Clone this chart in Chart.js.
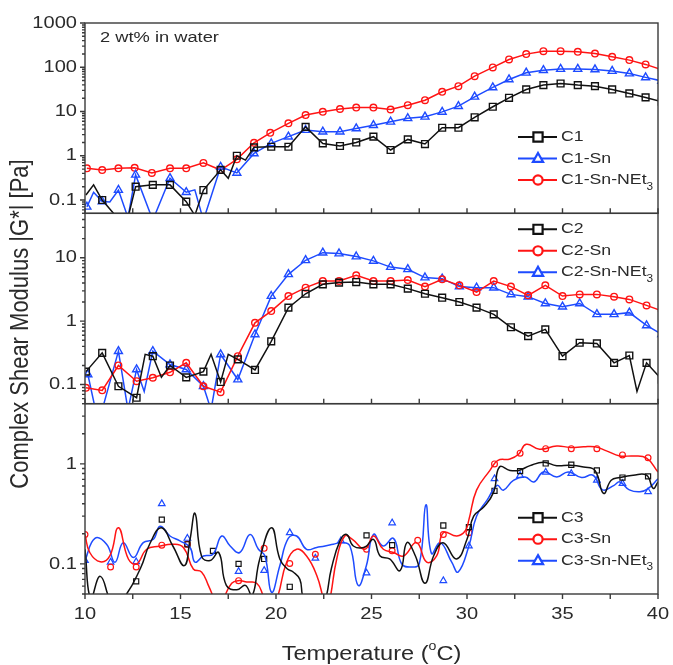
<!DOCTYPE html>
<html>
<head>
<meta charset="utf-8">
<script src="https://cdn.jsdelivr.net/npm/chart.js@4/dist/chart.umd.min.js"></script>
<style>
  html, body { margin: 0; padding: 0; background: #fff; }
  #wrap { width: 673px; height: 665px; }
</style>
</head>
<body>
<div id="wrap"><canvas id="c" width="673" height="665"></canvas></div>
<script>
// Temperature sweep of |G*| for three polymer families, 2 wt% in water.
// Each point: [temperature °C, |G*| Pa, marker? (0 = line vertex only)]

// ---- Panel 1 ----
const C1 = [[10.05,0.13,0],[10.45,0.22,0],[10.9,0.1],[11.8,0.035],[12.25,0.04,0],[12.65,0.2],[13.55,0.22],[14.45,0.22],[15.3,0.092],[15.75,0.045,0],[16.2,0.168],[17.1,0.48],[17.5,0.31,0],[17.95,1.0],[18.4,0.8,0],[18.85,1.55],[19.75,1.6],[20.65,1.6],[21.55,4.5],[22.45,1.9],[23.35,1.66],[24.2,2.0],[25.1,2.7],[26.0,1.35],[26.9,2.34],[27.8,1.84],[28.7,4.3],[29.55,4.3],[30.4,7.4],[31.35,12.8],[32.2,20.4],[33.1,31.5],[34.0,39.5],[34.9,43],[35.8,39.5],[36.7,37.4],[37.6,31.5],[38.5,25.6],[39.35,20.8],[40.2,16.6]];
const C1_Sn = [[10.1,0.07],[10.45,0.15,0],[10.9,0.092],[11.3,0.09,0],[11.75,0.168],[12.25,0.04,0],[12.65,0.37],[13.55,0.035],[14.45,0.31],[15.3,0.15],[15.75,0.17,0],[16.2,0.035],[17.1,0.56],[17.95,0.41],[18.85,1.13],[19.75,1.9],[20.65,2.7],[21.55,3.8],[22.45,3.5],[23.35,3.5],[24.2,4.15],[25.1,4.9],[26.0,5.85],[26.9,7.0],[27.8,7.6],[28.7,9.8],[29.55,13.2],[30.4,21.5],[31.35,35],[32.2,53],[33.1,75],[34.0,86],[34.9,91],[35.8,91],[36.7,89],[37.6,82],[38.5,72],[39.35,59],[40.2,49]];
const C1_SnNEt3 = [[10.1,0.52],[10.9,0.475],[11.75,0.52],[12.6,0.535],[13.5,0.41],[14.45,0.52],[15.3,0.52],[16.2,0.69],[17.1,0.475],[17.95,0.83],[18.85,1.96],[19.7,3.3],[20.65,5.4],[21.55,8.3],[22.45,9.85],[23.35,11.4],[24.2,12.3],[25.1,12.3],[26.0,11.1],[26.9,13.9],[27.8,18],[28.7,27.9],[29.55,37.4],[30.4,63],[31.35,99],[32.2,150],[33.1,198],[34.0,231],[34.9,231],[35.8,223],[36.7,204],[37.6,172],[38.5,145],[39.35,116],[40.2,88]];

// ---- Panel 2 ----
const C2 = [[10.05,0.16],[10.9,0.316],[11.75,0.094],[12.7,0.062],[13.15,0.3,0],[13.55,0.28],[14.0,0.13,0],[14.45,0.2],[15.3,0.13],[16.2,0.16],[16.6,0.3,0],[17.1,0.11],[17.5,0.3,0],[18.0,0.25],[18.9,0.17],[19.75,0.48],[20.65,1.63],[21.55,2.7],[22.45,3.8],[23.3,4.05],[24.2,4.13],[25.1,3.8],[26.0,3.8],[26.9,3.25],[27.8,2.7],[28.7,2.34],[29.6,2.0],[30.5,1.63],[31.4,1.28],[32.3,0.8],[33.2,0.58],[34.1,0.74],[35.0,0.28],[35.9,0.456],[36.8,0.445],[37.7,0.22],[38.5,0.287],[38.9,0.078,0],[39.4,0.22],[40.2,0.12]];
const C2_Sn = [[10.05,0.089],[10.9,0.081],[11.75,0.2],[12.7,0.113],[13.55,0.128],[14.45,0.156],[15.3,0.22],[16.2,0.094],[17.1,0.076],[18.0,0.28],[18.9,0.94],[19.75,1.44],[20.65,2.48],[21.55,3.37],[22.45,4.28],[23.3,4.28],[24.2,5.27],[25.1,4.28],[26.0,4.28],[26.9,4.44],[27.8,3.5],[28.7,4.56],[29.6,3.66],[30.5,2.87],[31.4,4.28],[32.3,3.5],[33.2,2.55],[34.1,3.66],[35.0,2.48],[35.9,2.64],[36.8,2.64],[37.7,2.43],[38.5,2.2],[39.4,1.77],[40.2,1.45]];
const C2_SnNEt3 = [[10.15,0.144],[10.55,0.04,0],[10.9,0.04],[11.75,0.336],[12.25,0.04,0],[12.7,0.173],[13.1,0.078,0],[13.55,0.336],[14.45,0.207],[15.3,0.173],[16.2,0.094],[16.6,0.04,0],[17.1,0.298],[18.0,0.12],[18.9,0.617],[19.75,2.48],[20.65,5.47],[21.55,9.1],[22.45,12.0],[23.3,11.6],[24.2,10.4],[25.1,8.9],[26.0,7.1],[26.9,6.56],[27.8,4.85],[28.7,4.67],[29.6,3.5],[30.5,3.37],[31.4,3.37],[32.3,2.64],[33.2,2.43],[34.1,1.9],[35.0,1.69],[35.9,1.9],[36.8,1.28],[37.7,1.28],[38.5,1.36],[39.4,0.855],[40.2,0.62]];

// ---- Panel 3: smoothed traces and sampled markers ----
const C3_curve = [[10.0,0.14],[10.3,0.045],[10.8,0.075],[11.45,0.04],[12.0,0.045],[12.9,0.09],[13.4,0.16],[14.0,0.23],[14.6,0.151],[15.2,0.096],[15.5,0.176],[15.76,0.32],[16.1,0.12],[16.55,0.108],[17.0,0.13],[17.4,0.061],[17.95,0.055],[18.4,0.061],[18.75,0.048],[19.15,0.112],[19.77,0.23],[20.2,0.112],[20.6,0.089],[20.9,0.083],[21.25,0.07],[21.45,0.045],[22.0,0.035],[22.5,0.04],[22.9,0.09],[23.35,0.17],[23.7,0.197],[24.05,0.151],[24.65,0.147],[25.1,0.176],[25.45,0.12],[25.95,0.112],[26.5,0.086],[26.85,0.163],[27.3,0.12],[27.8,0.064],[28.25,0.12],[28.75,0.163],[29.45,0.112],[30.0,0.176],[30.35,0.3],[30.9,0.374],[31.4,0.525],[31.7,0.93],[32.25,0.86],[32.7,0.86],[33.3,0.96],[34.0,1.04],[34.7,0.96],[35.4,0.97],[36.1,0.93],[36.7,0.86],[37.15,0.507],[37.55,0.685],[38.0,0.73],[38.7,0.77],[39.4,0.77],[39.75,0.57],[40.0,0.66]];
const C3_Sn_curve = [[10.0,0.197],[10.25,0.13],[10.8,0.105],[11.3,0.12],[11.75,0.23],[12.27,0.112],[12.7,0.1],[13.23,0.14],[13.9,0.15],[14.6,0.157],[15.15,0.146],[15.67,0.089],[16.1,0.083],[16.46,0.061],[16.75,0.045],[16.95,0.036],[17.25,0.045],[17.68,0.064],[18.03,0.068],[18.47,0.066],[18.99,0.064],[19.33,0.048],[19.7,0.032],[20.1,0.048],[20.56,0.104],[21.08,0.14],[21.6,0.12],[22.13,0.077],[22.48,0.045],[22.65,0.035],[22.83,0.045],[23.18,0.112],[23.6,0.19],[24.0,0.176],[24.66,0.14],[25.1,0.19],[25.62,0.14],[26.15,0.13],[26.67,0.12],[27.36,0.163],[27.89,0.104],[28.41,0.12],[28.76,0.205],[29.47,0.19],[29.9,0.213],[30.1,0.277],[30.5,0.546],[31.2,0.86],[31.6,1.08],[32.25,1.12],[32.7,1.25],[33.1,1.57],[33.8,1.4],[34.7,1.51],[35.4,1.46],[36.1,1.48],[36.7,1.48],[37.3,1.35],[38.0,1.2],[38.7,1.2],[39.4,1.14],[40.0,0.83]];
const C3_SnNEt3_curve = [[10.0,0.108],[10.52,0.18],[11.13,0.157],[11.57,0.104],[12.0,0.163],[12.53,0.116],[13.05,0.163],[13.58,0.176],[13.93,0.238],[14.45,0.19],[14.97,0.17],[15.5,0.146],[15.76,0.104],[16.2,0.12],[16.7,0.125],[17.16,0.19],[17.6,0.151],[18.1,0.13],[18.64,0.197],[19.08,0.14],[19.42,0.12],[19.77,0.052],[20.2,0.096],[20.64,0.18],[21.08,0.19],[21.6,0.14],[22.13,0.146],[22.57,0.151],[23.0,0.157],[23.44,0.163],[23.87,0.151],[24.3,0.061],[24.73,0.096],[25.1,0.197],[25.6,0.151],[26.15,0.18],[26.58,0.1],[27.05,0.093],[27.5,0.1],[27.85,0.39],[28.14,0.127],[28.6,0.163],[29.2,0.104],[29.54,0.083],[30.1,0.151],[30.5,0.3],[31.06,0.436],[31.58,0.61],[31.9,0.546],[32.43,0.685],[33.04,0.74],[33.5,0.66],[34.0,0.83],[34.7,0.74],[35.3,0.83],[36.0,0.73],[36.6,0.77],[37.1,0.55],[37.7,0.61],[38.0,0.66],[38.5,0.55],[39.06,0.526],[39.5,0.57],[40.0,0.71]];
const C3_marks = [[12.68,0.067],[14.02,0.277],[15.36,0.157],[16.7,0.135],[18.04,0.1],[19.38,0.112],[20.72,0.059],[24.74,0.193],[26.08,0.154],[28.76,0.242],[30.1,0.233],[31.44,0.538],[32.78,0.846],[34.12,1.01],[35.46,0.98],[36.8,0.86],[38.14,0.73],[39.48,0.75]];
const C3_Sn_marks = [[10.0,0.197],[11.34,0.093],[12.68,0.093],[14.02,0.154],[15.36,0.157],[18.04,0.068],[19.38,0.143],[20.72,0.101],[22.06,0.125],[24.74,0.14],[26.08,0.135],[27.42,0.172],[28.76,0.197],[30.1,0.205],[31.44,1.0],[32.78,1.28],[34.12,1.42],[35.46,1.42],[36.8,1.42],[38.14,1.23],[39.48,1.15]];
const C3_SnNEt3_marks = [[10.0,0.108],[11.34,0.104],[12.68,0.105],[14.02,0.4],[15.36,0.18],[18.04,0.084],[19.38,0.086],[20.72,0.205],[22.06,0.114],[23.4,0.17],[24.74,0.081],[26.08,0.257],[28.76,0.068],[30.1,0.151],[31.44,0.712],[32.78,0.767],[34.12,0.827],[35.46,0.8],[36.8,0.685],[38.14,0.636],[39.48,0.526]];

// ---- Axes ----
const X_TICKS = [10, 15, 20, 25, 30, 35, 40];
const X_MINOR = [12.5, 17.5, 22.5, 27.5, 32.5, 37.5];
const Y1_TICKS = [0.1, 1, 10, 100, 1000];
const Y2_TICKS = [0.1, 1, 10];
const Y3_TICKS = [0.1, 1];
const Y_RANGES = { y1: [0.05, 1000], y2: [0.05, 50], y3: [0.05, 4] };

const BLACK = '#111111', RED = '#ff1414', BLUE = '#1e4bff';
const FONT = '"Liberation Sans", Arial, Helvetica, sans-serif';
const TEXT = '#2a2a2a', FRAME = '#3a3a3a';
const SX = 1.18;               // horizontal text widening
const rawFill = CanvasRenderingContext2D.prototype.fillText;

const toPts = arr => arr.map(p => ({ x: p[0], y: p[1], m: p[2] !== 0 }));

function line(label, arr, color, shape, axis, r) {
  return {
    label, data: toPts(arr), yAxisID: axis, borderColor: color, borderWidth: 1.5,
    backgroundColor: '#fff', pointStyle: shape, pointBorderColor: color,
    pointBackgroundColor: 'rgba(255,255,255,0)', pointBorderWidth: 1.4,
    pointRadius: c => (c.raw && c.raw.m ? r : 0), tension: 0, fill: false
  };
}
function curve(label, arr, color, axis) {
  return {
    label, data: toPts(arr), yAxisID: axis, borderColor: color, borderWidth: 1.5,
    pointRadius: 0, tension: 0.45, fill: false
  };
}
function marks(label, arr, color, shape, axis, r) {
  return {
    label, data: toPts(arr), yAxisID: axis, showLine: false, pointStyle: shape,
    pointBorderColor: color, pointBackgroundColor: 'rgba(255,255,255,0)',
    pointBorderWidth: 1.2, pointRadius: r
  };
}

const datasets = [
  line('C1', C1, BLACK, 'rect', 'y1', 4.8),
  line('C1-Sn', C1_Sn, BLUE, 'triangle', 'y1', 4.6),
  line('C1-Sn-NEt3', C1_SnNEt3, RED, 'circle', 'y1', 3.3),
  line('C2', C2, BLACK, 'rect', 'y2', 4.8),
  line('C2-Sn', C2_Sn, RED, 'circle', 'y2', 3.3),
  line('C2-Sn-NEt3', C2_SnNEt3, BLUE, 'triangle', 'y2', 4.6),
  curve('C3', C3_curve, BLACK, 'y3'),
  curve('C3-Sn', C3_Sn_curve, RED, 'y3'),
  curve('C3-Sn-NEt3', C3_SnNEt3_curve, BLUE, 'y3'),
  marks('C3', C3_marks, BLACK, 'rect', 'y3', 3.6),
  marks('C3-Sn', C3_Sn_marks, RED, 'circle', 'y3', 2.9),
  marks('C3-Sn-NEt3', C3_SnNEt3_marks, BLUE, 'triangle', 'y3', 3.8)
];

function yScale(id, ticks) {
  return {
    type: 'logarithmic', position: 'left', stack: 'panels', stackWeight: 1,
    min: Y_RANGES[id][0], max: Y_RANGES[id][1],
    grid: { display: false, drawTicks: true, tickLength: 5 },
    border: { display: false },
    ticks: { font: { family: FONT, size: 17 }, color: TEXT, padding: 3, autoSkip: false,
             callback: v => String(v) },
    afterBuildTicks: s => { s.ticks = ticks.map(v => ({ value: v })); },
    afterFit: s => { s.width = 85; }
  };
}

// legend rows per panel
const LEGENDS = {
  y1: [['C1', BLACK, 'rect'], ['C1-Sn', BLUE, 'triangle'], ['C1-Sn-NEt', RED, 'circle', '3']],
  y2: [['C2', BLACK, 'rect'], ['C2-Sn', RED, 'circle'], ['C2-Sn-NEt', BLUE, 'triangle', '3']],
  y3: [['C3', BLACK, 'rect'], ['C3-Sn', RED, 'circle'], ['C3-Sn-NEt', BLUE, 'triangle', '3']]
};
const LEGEND_TOP = { y1: 114, y2: 16, y3: 114 };

function drawMarker(ctx, shape, x, y, color, s) {
  ctx.save();
  ctx.strokeStyle = color; ctx.lineWidth = 2.2; ctx.fillStyle = '#fff';
  ctx.beginPath();
  if (shape === 'rect') ctx.rect(x - s, y - s, 2 * s, 2 * s);
  else if (shape === 'circle') ctx.arc(x, y, s, 0, Math.PI * 2);
  else { ctx.moveTo(x, y - s * 1.2); ctx.lineTo(x + s * 1.1, y + s * 0.75); ctx.lineTo(x - s * 1.1, y + s * 0.75); ctx.closePath(); }
  ctx.fill(); ctx.stroke();
  ctx.restore();
}

function stretched(ctx, text, x, y) {
  ctx.save(); ctx.translate(x, y); ctx.scale(SX, 1); rawFill.call(ctx, text, 0, 0); ctx.restore();
}

const panelPlugin = {
  id: 'panels',
  beforeInit(chart) {
    const ctx = chart.ctx;
    ctx.fillText = function (t, x, y) { stretched(this, t, x, y); };
  },
  beforeDatasetDraw(chart, args) {
    const ds = chart.data.datasets[args.index];
    const s = chart.scales[ds.yAxisID];
    const a = chart.chartArea;
    chart.ctx.save();
    chart.ctx.beginPath();
    chart.ctx.rect(a.left, s.top, a.right - a.left, s.bottom - s.top);
    chart.ctx.clip();
  },
  afterDatasetDraw(chart) { chart.ctx.restore(); },
  afterDraw(chart) {
    const ctx = chart.ctx, a = chart.chartArea, xs = chart.scales.x;
    ctx.save();
    ctx.strokeStyle = FRAME; ctx.lineWidth = 1.4;
    ['y1', 'y2', 'y3'].forEach((id, k) => {
      const s = chart.scales[id];
      ctx.strokeRect(a.left, s.top, a.right - a.left, s.bottom - s.top);
      // log ticks on the left edge, major and minor
      const [lo, hi] = Y_RANGES[id];
      ctx.beginPath();
      for (let e = Math.floor(Math.log10(lo)); e <= Math.ceil(Math.log10(hi)); e++) {
        for (let m = 1; m <= 9; m++) {
          const v = m * Math.pow(10, e);
          if (v < lo * 0.999 || v > hi * 1.001) continue;
          const py = s.getPixelForValue(v);
          const len = m === 1 ? 5 : 3;
          ctx.moveTo(a.left - len, py); ctx.lineTo(a.left, py);
        }
      }
      // temperature ticks along the lower edge
      const out = k === 2 ? 1 : -1;
      X_TICKS.concat(X_MINOR).forEach(v => {
        const px = xs.getPixelForValue(v);
        ctx.moveTo(px, s.bottom); ctx.lineTo(px, s.bottom + out * 5);
      });
      ctx.stroke();

      // legend block
      const ly = s.top + LEGEND_TOP[id];
      LEGENDS[id].forEach(([txt, col, shape, sub], i) => {
        const y = ly + i * 21.5;
        ctx.save();
        ctx.strokeStyle = col; ctx.lineWidth = 2;
        ctx.beginPath(); ctx.moveTo(518, y); ctx.lineTo(557, y); ctx.stroke();
        ctx.restore();
        drawMarker(ctx, shape, 538, y, col, 4.6);
        ctx.fillStyle = TEXT; ctx.textBaseline = 'middle'; ctx.textAlign = 'left';
        ctx.font = '15px ' + FONT;
        stretched(ctx, txt, 561, y);
        if (sub) {
          const w = ctx.measureText(txt).width * SX;
          ctx.font = '10px ' + FONT;
          stretched(ctx, sub, 561 + w, y + 7);
        }
      });
    });

    // annotation
    ctx.fillStyle = TEXT; ctx.font = '15.5px ' + FONT;
    ctx.textAlign = 'left'; ctx.textBaseline = 'middle';
    stretched(ctx, '2 wt% in water', 100, 38);

    // x title with superscript degree
    ctx.font = '20px ' + FONT;
    const p1 = 'Temperature (', p3 = 'C)';
    const w1 = ctx.measureText(p1).width * SX, w3 = ctx.measureText(p3).width * SX;
    ctx.font = '12px ' + FONT;
    const w2 = ctx.measureText('o').width * SX;
    const cx = (a.left + a.right) / 2, ty = 654;
    const x0 = cx - (w1 + w2 + w3) / 2;
    ctx.font = '20px ' + FONT; stretched(ctx, p1, x0, ty);
    ctx.font = '12px ' + FONT; stretched(ctx, 'o', x0 + w1, ty - 7);
    ctx.font = '20px ' + FONT; stretched(ctx, p3, x0 + w1 + w2, ty);

    // y title spanning all panels
    ctx.font = '22px ' + FONT; ctx.textAlign = 'center';
    ctx.save();
    ctx.translate(21, 324); ctx.scale(SX, 1); ctx.rotate(-Math.PI / 2);
    rawFill.call(ctx, 'Complex Shear Modulus |G*| [Pa]', 0, 0);
    ctx.restore();
    ctx.restore();
  }
};

new Chart(document.getElementById('c'), {
  type: 'line',
  data: { datasets },
  options: {
    responsive: false, animation: false, devicePixelRatio: 1,
    layout: { padding: { top: 23, right: 15, left: 0, bottom: 0 } },
    plugins: { legend: { display: false }, tooltip: { enabled: false } },
    scales: {
      x: {
        type: 'linear', position: 'bottom', min: 10, max: 40,
        grid: { display: false, drawTicks: true, tickLength: 5 },
        border: { display: false },
        ticks: { font: { family: FONT, size: 17 }, color: TEXT, padding: 5, autoSkip: false, maxRotation: 0 },
        afterBuildTicks: s => { s.ticks = X_TICKS.map(v => ({ value: v })); },
        afterFit: s => { s.height = 71; }
      },
      // stacked panels are laid out bottom-up in declaration order
      y3: yScale('y3', Y3_TICKS),
      y2: yScale('y2', Y2_TICKS),
      y1: yScale('y1', Y1_TICKS)
    }
  },
  plugins: [panelPlugin]
});
</script>
</body>
</html>
